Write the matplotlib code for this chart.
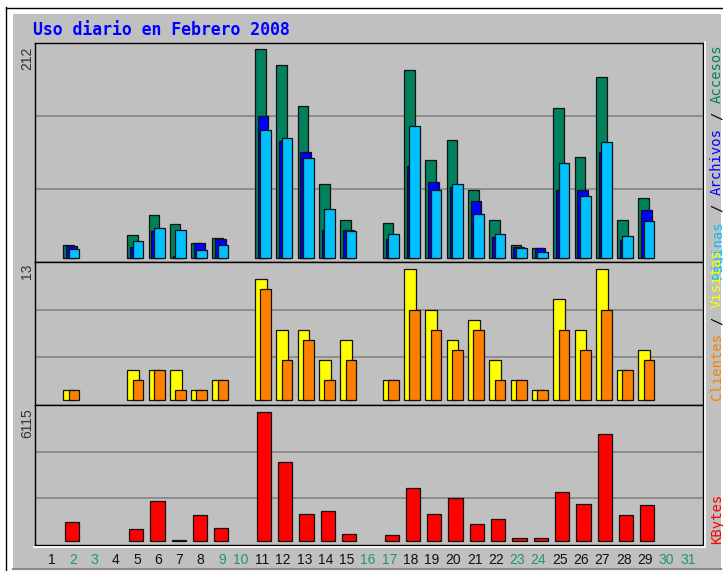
#!/usr/bin/env python

import matplotlib
matplotlib.use("Agg")
import matplotlib.pyplot as plt
from matplotlib.patches import Rectangle
from matplotlib.lines import Line2D

# daily figures, February 2008 (days 1..29)
days = list(range(1, 30))
accesos = [0, 13, 0, 0, 24, 44, 35, 15, 21, 0, 212, 195, 154, 75, 39, 0, 36,
           190, 99, 120, 69, 39, 13, 10, 152, 102, 183, 39, 61]
archivos = [0, 12, 0, 0, 11, 28, 2, 15, 20, 0, 144, 119, 107, 29, 29, 0, 20,
            93, 77, 72, 58, 22, 11, 10, 69, 69, 108, 19, 49]
paginas = [0, 9, 0, 0, 18, 31, 29, 8, 13, 0, 130, 122, 101, 50, 28, 0, 25,
           134, 69, 75, 45, 25, 10, 6, 96, 63, 118, 23, 38]
visitas = [0, 1, 0, 0, 3, 3, 3, 1, 2, 0, 12, 7, 7, 4, 6, 0, 2,
           13, 9, 6, 8, 4, 2, 1, 10, 7, 13, 3, 5]
clientes = [0, 1, 0, 0, 2, 3, 1, 1, 2, 0, 11, 4, 6, 2, 4, 0, 2,
            9, 7, 5, 7, 2, 2, 1, 7, 5, 9, 3, 4]
kbytes = [0, 884, 0, 0, 553, 1906, 40, 1230, 630, 0, 6115, 3722, 1277, 1433,
          345, 0, 284, 2507, 1291, 2034, 818, 1026, 156, 156, 2303, 1764,
          5061, 1230, 1703]

label_days = list(range(1, 32))
weekend = [2, 3, 9, 10, 16, 17, 23, 24, 30, 31]

title = "Uso diario en Febrero 2008"

GRAY = "#C0C0C0"
C_HITS = "#00805C"
C_FILES = "#0000FF"
C_PAGES = "#00C0FF"
C_VISITS = "#FFFF00"
C_SITES = "#FF8000"
C_KB = "#FF0000"
C_WEEKEND = "#1E9670"

W, H = 723, 571


def fx(px):
    return px / W


def fy(py):
    return 1 - py / H


def hline(x0, x1, y, color, lw=1.0, z=-5):
    fig.lines.append(Line2D([fx(x0), fx(x1)], [fy(y), fy(y)], color=color,
                            lw=lw, transform=fig.transFigure, zorder=z))


def vline(x, y0, y1, color, lw=1.0, z=-5):
    fig.lines.append(Line2D([fx(x), fx(x)], [fy(y0), fy(y1)], color=color,
                            lw=lw, transform=fig.transFigure, zorder=z))


def bars(ax, values, offset, width, color):
    xs = [d - 1 + offset for d, v in zip(days, values) if v > 0]
    hs = [v for v in values if v > 0]
    ax.bar(xs, hs, width=width, align='edge', color=color,
           edgecolor='#111111', linewidth=0.9, zorder=3)


def panel(top, bottom, vmax, lo_frac, hi_frac):
    ax = fig.add_axes([fx(35), fy(bottom), fx(703 - 35), (bottom - top) / H])
    ax.set_facecolor(GRAY)
    ax.set_xlim(0, 31.36)
    lo, hi = -lo_frac * vmax, hi_frac * vmax
    ax.set_ylim(lo, hi)
    for f in (1 / 3, 2 / 3):
        ax.axhline(lo + (hi - lo) * f, color='#808080', lw=1.1, zorder=1)
    ax.set_xticks([])
    ax.set_yticks([])
    for s in ax.spines.values():
        s.set_color('#000000')
        s.set_linewidth(1.0)
    return ax


def vlabel(x, y_bottom, parts, size=10):
    adv = 0.602 * size * 100 / 72
    i = 0
    for s, c in parts:
        lead = len(s) - len(s.lstrip())
        if s.strip():
            fig.text(fx(x), fy(y_bottom - (i + lead) * adv), s.strip(),
                     rotation=90, ha='center', va='bottom', color=c,
                     family='DejaVu Sans Mono', size=size)
        i += len(s)


fig = plt.figure(figsize=(W / 100, H / 100), dpi=100)
fig.patch.set_facecolor('white')

# outer frame
fig.patches.append(Rectangle((fx(13), fy(568)), fx(721 - 13), (568 - 14) / H,
                             transform=fig.transFigure, facecolor=GRAY,
                             edgecolor='none', zorder=-10))
vline(6.5, 7, H, 'black')
hline(6, W, 7.5, 'black')
hline(13, 721, 569, '#8a8a8a', lw=1.5)
# light bevel around the chart block
vline(704.7, 42, 547, 'white', lw=1.2, z=5)
hline(34, 705, 546.7, 'white', lw=1.2, z=5)

ax1 = panel(43, 262, max(accesos), 0.0176, 1.027)
bars(ax1, accesos, 0.33, 0.5, C_HITS)
bars(ax1, archivos, 0.46, 0.5, C_FILES)
bars(ax1, paginas, 0.58, 0.5, C_PAGES)

ax2 = panel(262, 405, max(visitas), 0.038, 1.056)
bars(ax2, visitas, 0.33, 0.55, C_VISITS)
bars(ax2, clientes, 0.58, 0.5, C_SITES)

ax3 = panel(405, 545, max(kbytes), 0.031, 1.052)
bars(ax3, kbytes, 0.41, 0.67, C_KB)

ticks = [d - 1 + (0.78 if d < 10 else 0.64) for d in label_days]
ax3.set_xticks(ticks)
ax3.set_xticklabels([str(d) for d in label_days], family='Liberation Sans',
                    fontsize=10)
ax3.tick_params(axis='x', length=0, pad=5.5)
for lab, d in zip(ax3.get_xticklabels(), label_days):
    lab.set_color(C_WEEKEND if d in weekend else '#111111')

# left max labels
for y, v in ((47, max(accesos)), (264, max(visitas)), (408, max(kbytes))):
    fig.text(fx(27), fy(y), str(v), rotation=90, ha='center', va='top',
             family='Liberation Sans', size=10, color='#333333')

# right legends (overlap between Visitas and Páginas as in the original)
vlabel(717, 279, [("Páginas", C_PAGES), (" / ", 'black'),
                  ("Archivos", C_FILES), (" / ", 'black'),
                  ("Accesos", C_HITS)])
vlabel(717, 400, [("Clientes", C_SITES), (" / ", 'black'),
                  ("Visitas", C_VISITS)])
vlabel(717, 544, [("KBytes", C_KB)])

fig.text(fx(33), fy(35), title, ha='left', va='baseline',
         family='DejaVu Sans Mono', weight='bold', size=11.9, color='#0000FF')

fig.savefig("out.png", dpi=100)
